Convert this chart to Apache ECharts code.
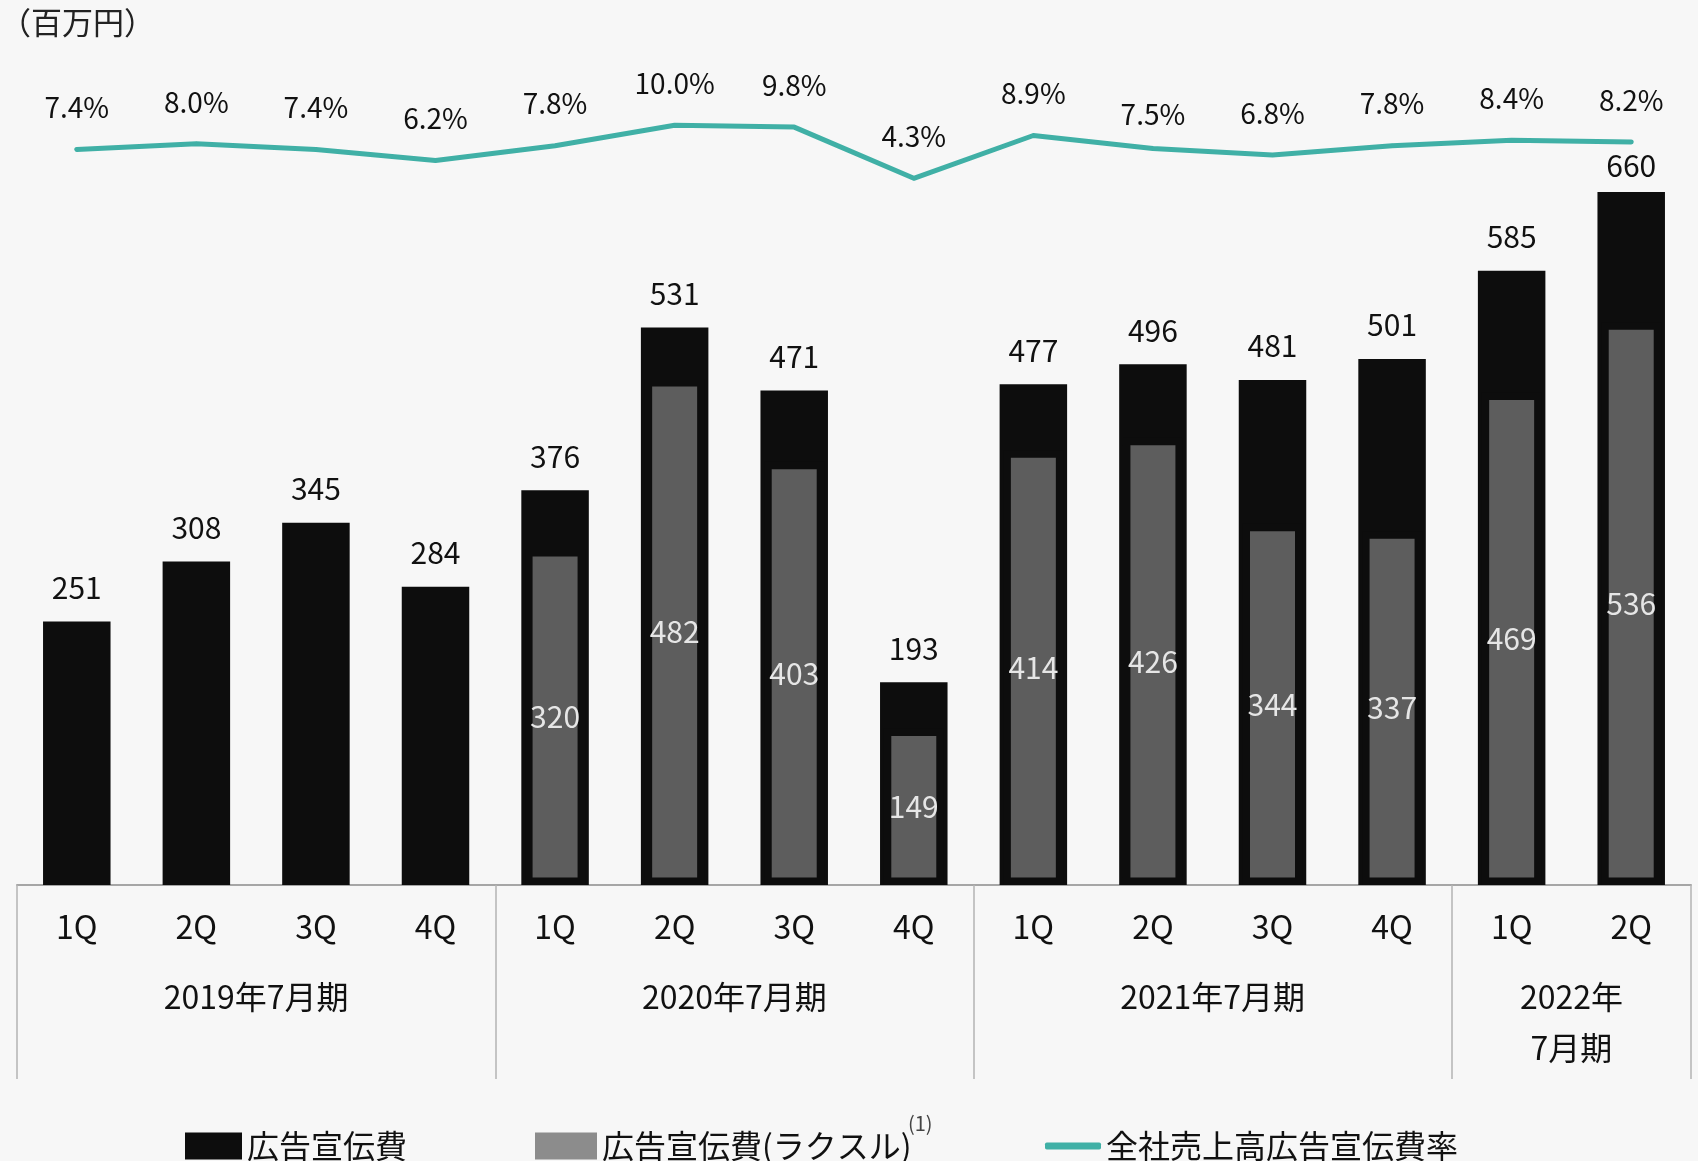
<!DOCTYPE html>
<html lang="ja">
<head>
<meta charset="utf-8">
<title>広告宣伝費の推移</title>
<script src="https://cdn.jsdelivr.net/npm/echarts@6/dist/echarts.min.js"></script>
<style>
  html, body { margin: 0; padding: 0; background: #f7f7f7; }
  #chart { width: 1698px; height: 1161px; }
</style>
</head>
<body>
<div id="chart"></div>
<script>
// Quarterly advertising spend (million yen) and company-wide ad-cost ratio
const quarterLabels = ['1Q', '2Q', '3Q', '4Q', '1Q', '2Q', '3Q', '4Q', '1Q', '2Q', '3Q', '4Q', '1Q', '2Q'];
const totalAdCost = [251, 308, 345, 284, 376, 531, 471, 193, 477, 496, 481, 501, 585, 660];
const raksulAdCost = [null, null, null, null, 320, 482, 403, 149, 414, 426, 344, 337, 469, 536];
const adCostRatio = [7.4, 8.0, 7.4, 6.2, 7.8, 10.0, 9.8, 4.3, 8.9, 7.5, 6.8, 7.8, 8.4, 8.2];
const fiscalYears = ['2019年7月期', '2020年7月期', '2021年7月期', '2022年\n7月期'];
const fiscalYearQuarters = [4, 4, 4, 2];

const FONT = '"Noto Sans CJK JP", "Noto Sans", sans-serif';
const TEAL = '#40b0a6';

// Fiscal-year axis on half-quarter steps: ticks at year boundaries, names at year centres
const groupAxisData = new Array(quarterLabels.length * 2 + 1).fill('');
const groupBounds = [0];
let cursor = 0;
fiscalYearQuarters.forEach((n, i) => {
  groupAxisData[cursor + n] = fiscalYears[i];
  cursor += n * 2;
  groupBounds.push(cursor);
});

// The last total sits right under the ratio line, so its label hugs the bar
const totalData = totalAdCost.map((v, i) =>
  i === totalAdCost.length - 1 ? { value: v, label: { distance: 11 } } : v
);
// 7.5% label sits a little closer to its point
const ratioData = adCostRatio.map((v, i) =>
  i === 9 ? { value: v, label: { distance: 18 } } : v
);

const chart = echarts.init(document.getElementById('chart'), null, { renderer: 'canvas' });

chart.setOption({
  animation: false,
  backgroundColor: '#f7f7f7',
  textStyle: { fontFamily: FONT },
  title: {
    text: '（百万円）',
    left: 0,
    top: 7,
    padding: 0,
    textStyle: { fontFamily: FONT, fontSize: 31, fontWeight: 'normal', color: '#222' }
  },
  grid: { left: 17, right: 7, top: 45, bottom: 276, outerBoundsMode: 'none', containLabel: false },
  xAxis: [
    {
      type: 'category',
      data: quarterLabels,
      position: 'bottom',
      axisLine: { show: true, onZero: false, lineStyle: { color: '#a6a6a6', width: 2 } },
      axisTick: { show: false },
      axisLabel: { fontFamily: FONT, fontSize: 32, color: '#111', margin: 26, interval: 0 }
    },
    {
      type: 'category',
      data: groupAxisData,
      position: 'bottom',
      boundaryGap: false,
      axisLine: { show: false, onZero: false },
      axisTick: {
        show: true,
        length: 194,
        interval: (idx) => groupBounds.includes(idx),
        lineStyle: { color: '#b4b4b4', width: 1.5 }
      },
      axisLabel: { fontFamily: FONT, fontSize: 32, color: '#111', margin: 86.5, lineHeight: 51, interval: 0 }
    },
    {
      type: 'category',
      data: quarterLabels,
      show: false,
      axisLine: { onZero: false }
    }
  ],
  yAxis: [
    { type: 'value', min: 0, max: 800, show: false },
    { type: 'value', min: -71.69, max: 18.63, show: false }
  ],
  legend: [
    {
      left: 185, top: 1130, padding: 0,
      itemWidth: 57, itemHeight: 27,
      icon: 'rect',
      data: [{ name: '広告宣伝費', itemStyle: { color: '#0d0d0d' } }],
      textStyle: { fontFamily: FONT, fontSize: 32, color: '#111' }
    },
    {
      left: 535, top: 1130, padding: 0,
      itemWidth: 62, itemHeight: 27,
      icon: 'rect',
      data: [{ name: '広告宣伝費(ラクスル)', itemStyle: { color: '#8c8c8c', borderWidth: 0 } }],
      textStyle: { fontFamily: FONT, fontSize: 32, color: '#111' }
    },
    {
      left: 1045, top: 1130, padding: 0,
      itemWidth: 56, itemHeight: 7,
      icon: 'roundRect',
      data: [{ name: '全社売上高広告宣伝費率', itemStyle: { color: TEAL } }],
      textStyle: { fontFamily: FONT, fontSize: 32, color: '#111' }
    }
  ],
  graphic: [
    {
      type: 'text',
      left: 908,
      top: 1113,
      style: { text: '(1)', fontFamily: FONT, fontSize: 20, fill: '#444' }
    }
  ],
  series: [
    {
      name: '広告宣伝費',
      type: 'bar',
      xAxisIndex: 0,
      yAxisIndex: 0,
      data: totalData,
      barWidth: 67.5,
      itemStyle: { color: '#0d0d0d' },
      label: {
        show: true,
        position: 'top',
        distance: 19,
        fontFamily: FONT,
        fontSize: 30,
        color: '#111'
      }
    },
    {
      name: '広告宣伝費(ラクスル)',
      type: 'bar',
      xAxisIndex: 2,
      yAxisIndex: 0,
      data: raksulAdCost,
      barWidth: 60,
      itemStyle: { color: '#5d5d5d', borderColor: '#0d0d0d', borderWidth: 7.5 },
      label: {
        show: true,
        position: 'inside',
        fontFamily: FONT,
        fontSize: 30,
        color: '#e6e6e6'
      }
    },
    {
      name: '全社売上高広告宣伝費率',
      type: 'line',
      xAxisIndex: 0,
      yAxisIndex: 1,
      data: ratioData,
      symbol: 'circle',
      symbolSize: 4,
      itemStyle: { color: TEAL },
      lineStyle: { color: TEAL, width: 5, cap: 'round', join: 'round' },
      label: {
        show: true,
        position: 'top',
        distance: 26,
        fontFamily: FONT,
        fontSize: 28,
        color: '#111',
        formatter: (p) => p.value.toFixed(1) + '%'
      }
    }
  ]
});
</script>
</body>
</html>
